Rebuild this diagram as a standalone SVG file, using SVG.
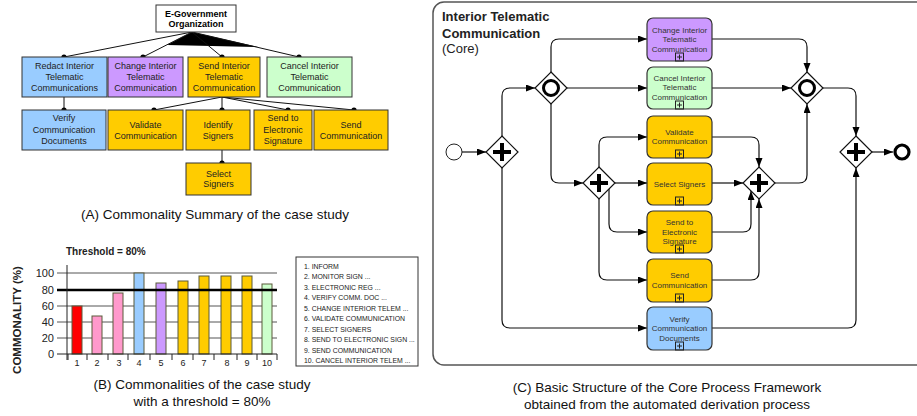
<svg xmlns="http://www.w3.org/2000/svg" width="917" height="416" viewBox="0 0 917 416">
  <style>
    text { font-family: "Liberation Sans", Arial, sans-serif; fill: #222; }
    .fm { font-size: 9px; text-anchor: middle; }
    .fmb { font-size: 9px; font-weight: bold; text-anchor: middle; fill: #000; }
    .box { stroke: #333; stroke-width: 1; }
    .blue { fill: #99ccff; }
    .purple { fill: #cc99ff; }
    .gold { fill: #ffcc00; }
    .green { fill: #ccffcc; }
    .pink { fill: #ff99cc; }
    .red { fill: #ff0000; }
    .edge { stroke: #111; stroke-width: 1; fill: none; }
    .cap { font-size: 13.5px; text-anchor: middle; fill: #111; }
    .grid { stroke: #555; stroke-width: 1; }
    .bar { stroke: #5a5a3a; stroke-width: 1; }
    .tick { font-size: 11px; text-anchor: end; fill: #111; }
    .xl { font-size: 9px; text-anchor: middle; fill: #111; }
    .leg { font-size: 6.9px; fill: #222; }
    .task { stroke: #333; stroke-width: 1.2; }
    .tt { font-size: 8px; text-anchor: middle; fill: #333; }
    .flow { stroke: #111; stroke-width: 1.2; fill: none; marker-end: url(#arr); }
    .gw { fill: #fff; stroke: #111; stroke-width: 1.2; }
    .plus { stroke: #000; stroke-width: 4; }
    .sub { fill: none; stroke: #222; stroke-width: 1; }
  </style>
  <defs>
    <marker id="arr" markerUnits="userSpaceOnUse" markerWidth="9" markerHeight="8" refX="9" refY="3.5" orient="auto">
      <path d="M0,0 L9,3.5 L0,7 Z" fill="#000"/>
    </marker>
    <g id="pgw">
      <path class="gw" d="M0,-16 L16,0 L0,16 L-16,0 Z"/>
      <path class="plus" d="M-9,0 H9 M0,-9 V9"/>
    </g>
    <g id="ogw">
      <path class="gw" d="M0,-16 L16,0 L0,16 L-16,0 Z"/>
      <circle r="7.5" fill="none" stroke="#000" stroke-width="3"/>
    </g>
    <g id="subm">
      <rect x="-4" y="0" width="8" height="8" class="sub"/>
      <path d="M-2.5,4 H2.5 M0,1.5 V6.5" stroke="#222" stroke-width="1"/>
    </g>
  </defs>

  <!-- ===== (A) feature tree ===== -->
  <g id="tree-edges">
    <path d="M192,32 L167,45 L258,47 Z" fill="#000"/>
    <path class="edge" d="M192,32 L64,57 M192,32 L143,57 M192,32 L222,57 M192,32 L299,57"/>
    <path class="edge" d="M64,97 V110 M222,97 L154,110 M222,97 V110 M222,97 L288,110 M222,97 L354,110 M222,150 V163"/>
    <g fill="#000">
      <circle cx="64" cy="57" r="2.6"/><circle cx="143" cy="57" r="2.6"/>
      <circle cx="222" cy="57" r="2.6"/><circle cx="299" cy="57" r="2.6"/>
      <circle cx="64" cy="110" r="2.6"/><circle cx="154" cy="110" r="2.6"/>
      <circle cx="222" cy="110" r="2.6"/><circle cx="288" cy="110" r="2.6"/>
      <circle cx="354" cy="110" r="2.6"/><circle cx="222" cy="163" r="2.6"/>
    </g>
  </g>
  <g id="f-root">
    <rect x="156" y="5" width="80" height="27" fill="#fff" class="box"/>
    <text class="fmb" x="196" y="16.5">E-Government</text>
    <text class="fmb" x="196" y="27">Organization</text>
  </g>
  <g id="f-redact">
    <rect x="22" y="57" width="85" height="40" class="box blue"/>
    <text class="fm" x="64.5" y="69">Redact Interior</text>
    <text class="fm" x="64.5" y="80">Telematic</text>
    <text class="fm" x="64.5" y="91">Communications</text>
  </g>
  <g id="f-change">
    <rect x="108" y="57" width="75" height="40" class="box purple"/>
    <text class="fm" x="145.5" y="69">Change Interior</text>
    <text class="fm" x="145.5" y="80">Telematic</text>
    <text class="fm" x="145.5" y="91">Communication</text>
  </g>
  <g id="f-send">
    <rect x="188" y="57" width="72" height="40" class="box gold"/>
    <text class="fm" x="224" y="69">Send Interior</text>
    <text class="fm" x="224" y="80">Telematic</text>
    <text class="fm" x="224" y="91">Communication</text>
  </g>
  <g id="f-cancel">
    <rect x="267" y="57" width="85" height="40" class="box green"/>
    <text class="fm" x="309.5" y="69">Cancel Interior</text>
    <text class="fm" x="309.5" y="80">Telematic</text>
    <text class="fm" x="309.5" y="91">Communication</text>
  </g>
  <g id="f-verify">
    <rect x="22" y="110" width="84" height="40" class="box blue"/>
    <text class="fm" x="64" y="121">Verify</text>
    <text class="fm" x="64" y="132.5">Communication</text>
    <text class="fm" x="64" y="144">Documents</text>
  </g>
  <g id="f-validate">
    <rect x="108" y="110" width="75" height="40" class="box gold"/>
    <text class="fm" x="145.5" y="128">Validate</text>
    <text class="fm" x="145.5" y="139">Communication</text>
  </g>
  <g id="f-identify">
    <rect x="186" y="110" width="64" height="40" class="box gold"/>
    <text class="fm" x="218" y="128">Identify</text>
    <text class="fm" x="218" y="139">Signers</text>
  </g>
  <g id="f-sendsig">
    <rect x="254" y="110" width="58" height="40" class="box gold"/>
    <text class="fm" x="283" y="121">Send to</text>
    <text class="fm" x="283" y="132.5">Electronic</text>
    <text class="fm" x="283" y="144">Signature</text>
  </g>
  <g id="f-sendcomm">
    <rect x="314" y="110" width="74" height="40" class="box gold"/>
    <text class="fm" x="351" y="128">Send</text>
    <text class="fm" x="351" y="139">Communication</text>
  </g>
  <g id="f-select">
    <rect x="186" y="163" width="65" height="32" class="box gold"/>
    <text class="fm" x="218.5" y="177">Select</text>
    <text class="fm" x="218.5" y="187">Signers</text>
  </g>
  <text class="cap" x="215" y="219">(A) Commonality Summary of the case study</text>

  <!-- ===== (B) commonality chart ===== -->
  <g id="chart">
    <text x="66" y="255" font-size="10" font-weight="bold" fill="#000">Threshold = 80%</text>
    <text transform="translate(21,320) rotate(-90)" font-size="11.5" font-weight="bold" text-anchor="middle" fill="#000">COMMONALITY (%)</text>
    <g class="grid">
      <line x1="57" y1="273" x2="277" y2="273"/>
      <line x1="57" y1="306" x2="277" y2="306"/>
      <line x1="57" y1="322" x2="277" y2="322"/>
      <line x1="57" y1="338" x2="277" y2="338"/>
    </g>
    <g class="tick">
      <text x="54" y="277">100</text>
      <text x="54" y="294">80</text>
      <text x="54" y="310">60</text>
      <text x="54" y="326">40</text>
      <text x="54" y="342">20</text>
      <text x="54" y="358">0</text>
    </g>
    <rect x="72" y="306" width="10" height="48" class="bar red"/>
    <rect x="92" y="316" width="10" height="38" class="bar pink"/>
    <rect x="113" y="293" width="10" height="61" class="bar pink"/>
    <rect x="134" y="273" width="10" height="81" class="bar blue"/>
    <rect x="156" y="283" width="10" height="71" class="bar purple"/>
    <rect x="178" y="281" width="10" height="73" class="bar gold"/>
    <rect x="199" y="276" width="10" height="78" class="bar gold"/>
    <rect x="221" y="276" width="10" height="78" class="bar gold"/>
    <rect x="242" y="276" width="10" height="78" class="bar gold"/>
    <rect x="262" y="284" width="10" height="70" class="bar green"/>
    <line x1="57" y1="290" x2="277" y2="290" stroke="#000" stroke-width="2.5"/>
    <line x1="67" y1="265" x2="67" y2="360" stroke="#222" stroke-width="1"/>
    <line x1="57" y1="354" x2="277" y2="354" stroke="#222" stroke-width="1"/>
    <path d="M68,354 V360 M87,354 V360 M108,354 V360 M128,354 V360 M150,354 V360 M172,354 V360 M193,354 V360 M214,354 V360 M237,354 V360 M257,354 V360 M277,354 V360" stroke="#222" stroke-width="1"/>
    <g class="xl">
      <text x="77" y="366">1</text><text x="97" y="366">2</text><text x="119" y="366">3</text>
      <text x="139" y="366">4</text><text x="161" y="366">5</text><text x="183" y="366">6</text>
      <text x="204" y="366">7</text><text x="227" y="366">8</text><text x="247" y="366">9</text>
      <text x="267" y="366">10</text>
    </g>
  </g>
  <g id="legend">
    <rect x="296" y="257" width="122" height="109" fill="#fff" stroke="#333" stroke-width="1"/>
    <g class="leg">
      <text x="304" y="268.5">1. INFORM</text>
      <text x="304" y="279">2. MONITOR SIGN ...</text>
      <text x="304" y="289.5">3. ELECTRONIC REG ...</text>
      <text x="304" y="300">4. VERIFY COMM. DOC ...</text>
      <text x="304" y="310.5">5. CHANGE INTERIOR TELEM ...</text>
      <text x="304" y="321">6. VALIDATE COMMUNICATION</text>
      <text x="304" y="331.5">7. SELECT SIGNERS</text>
      <text x="304" y="342">8. SEND TO ELECTRONIC SIGN ...</text>
      <text x="304" y="352.5">9. SEND COMMUNICATION</text>
      <text x="304" y="363">10. CANCEL INTERIOR TELEM ...</text>
    </g>
  </g>
  <text class="cap" x="202" y="389">(B) Commonalities of the case study</text>
  <text class="cap" x="202" y="406">with a threshold = 80%</text>

  <!-- ===== (C) core process ===== -->
  <rect x="433" y="2" width="520" height="363" rx="11" fill="none" stroke="#555" stroke-width="1.5"/>
  <text x="442" y="21" font-size="13" font-weight="bold" fill="#111">Interior Telematic</text>
  <text x="442" y="37.5" font-size="13" font-weight="bold" fill="#111">Communication</text>
  <text x="442" y="53" font-size="13" fill="#111">(Core)</text>

  <g id="flows">
    <path class="flow" d="M462,152 H486"/>
    <path class="flow" d="M502,136 V96 Q502,88 510,88 H535"/>
    <path class="flow" d="M502,168 V320 Q502,328 510,328 H647"/>
    <path class="flow" d="M551,72 V47 Q551,39 559,39 H647"/>
    <path class="flow" d="M567,88 H647"/>
    <path class="flow" d="M551,104 V175 Q551,183 559,183 H583"/>
    <path class="flow" d="M599,167 V145 Q599,137 607,137 H647"/>
    <path class="flow" d="M615,183 H647"/>
    <path class="flow" d="M599,199 V272 Q599,280 607,280 H647"/>
    <path class="flow" d="M609,189 V224 Q609,232 617,232 H647"/>
    <path class="flow" d="M712,137 H751 Q759,137 759,145 V167"/>
    <path class="flow" d="M712,183 H743"/>
    <path class="flow" d="M712,232 H743 Q751,232 751,224 V191"/>
    <path class="flow" d="M712,280 H751 Q759,280 759,272 V199"/>
    <path class="flow" d="M775,183 H799 Q807,183 807,175 V104"/>
    <path class="flow" d="M712,39 H799 Q807,39 807,47 V72"/>
    <path class="flow" d="M712,88 H791"/>
    <path class="flow" d="M823,88 H848 Q856,88 856,96 V136"/>
    <path class="flow" d="M712,328 H848 Q856,328 856,320 V168"/>
    <path class="flow" d="M872,152 H893"/>
  </g>

  <g id="start"><circle cx="454" cy="152" r="8" fill="#fff" stroke="#222" stroke-width="1"/></g>
  <g id="end"><circle cx="902" cy="152" r="7" fill="#fff" stroke="#000" stroke-width="3.2"/></g>
  <g id="gw-split"><use href="#pgw" x="502" y="152"/></g>
  <g id="gw-or-split"><use href="#ogw" x="551" y="88"/></g>
  <g id="gw-send-split"><use href="#pgw" x="599" y="183"/></g>
  <g id="gw-send-join"><use href="#pgw" x="759" y="183"/></g>
  <g id="gw-or-join"><use href="#ogw" x="807" y="88"/></g>
  <g id="gw-join"><use href="#pgw" x="856" y="152"/></g>

  <g id="t-change">
    <rect x="647" y="18" width="65" height="43" rx="6" class="task purple"/>
    <text class="tt" x="679.5" y="33">Change Interior</text>
    <text class="tt" x="679.5" y="42">Telematic</text>
    <text class="tt" x="679.5" y="52">Communication</text>
    <use href="#subm" x="679.5" y="53"/>
  </g>
  <g id="t-cancel">
    <rect x="647" y="67" width="65" height="42" rx="6" class="task green"/>
    <text class="tt" x="679.5" y="81">Cancel Interior</text>
    <text class="tt" x="679.5" y="90">Telematic</text>
    <text class="tt" x="679.5" y="100">Communication</text>
    <use href="#subm" x="679.5" y="101"/>
  </g>
  <g id="t-validate">
    <rect x="647" y="116" width="65" height="42" rx="6" class="task gold"/>
    <text class="tt" x="679.5" y="135">Validate</text>
    <text class="tt" x="679.5" y="144">Communication</text>
    <use href="#subm" x="679.5" y="150"/>
  </g>
  <g id="t-select">
    <rect x="647" y="163" width="65" height="42" rx="6" class="task gold"/>
    <text class="tt" x="679.5" y="187">Select Signers</text>
    <use href="#subm" x="679.5" y="197"/>
  </g>
  <g id="t-sendsig">
    <rect x="647" y="211" width="65" height="42" rx="6" class="task gold"/>
    <text class="tt" x="679.5" y="225">Send to</text>
    <text class="tt" x="679.5" y="235">Electronic</text>
    <text class="tt" x="679.5" y="244">Signature</text>
    <use href="#subm" x="679.5" y="245"/>
  </g>
  <g id="t-sendcomm">
    <rect x="647" y="259" width="65" height="43" rx="6" class="task gold"/>
    <text class="tt" x="679.5" y="278">Send</text>
    <text class="tt" x="679.5" y="288">Communication</text>
    <use href="#subm" x="679.5" y="294"/>
  </g>
  <g id="t-verify">
    <rect x="647" y="307" width="65" height="43" rx="6" class="task blue"/>
    <text class="tt" x="679.5" y="322">Verify</text>
    <text class="tt" x="679.5" y="331">Communication</text>
    <text class="tt" x="679.5" y="341">Documents</text>
    <use href="#subm" x="679.5" y="342"/>
  </g>

  <text class="cap" x="667" y="392">(C) Basic Structure of the Core Process Framework</text>
  <text class="cap" x="667" y="409">obtained from the automated derivation process</text>
</svg>
